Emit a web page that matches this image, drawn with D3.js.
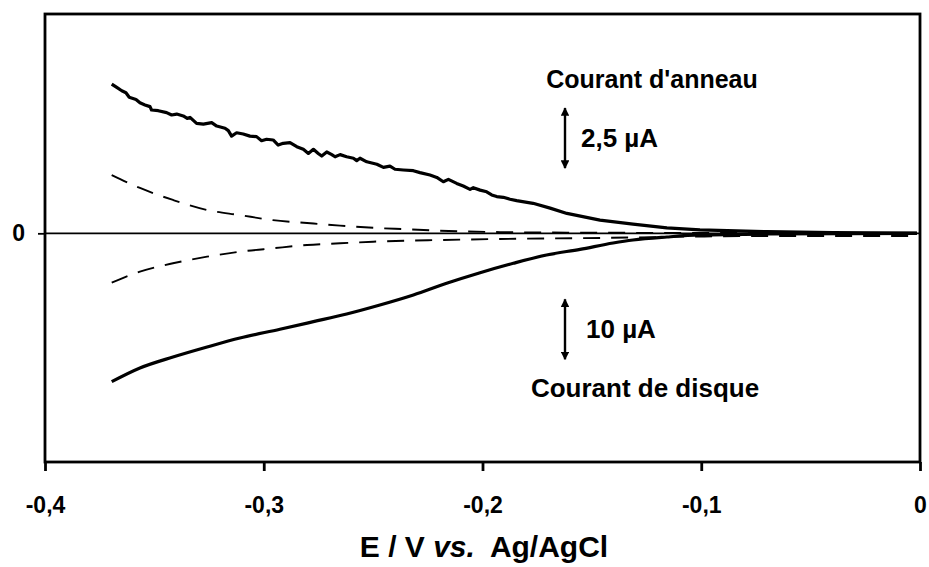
<!DOCTYPE html>
<html><head><meta charset="utf-8">
<script src="https://cdn.jsdelivr.net/npm/d3@7"></script>
<style>
html,body{margin:0;padding:0;background:#fff;}
text{font-family:"Liberation Sans",Arial,sans-serif;font-weight:bold;fill:#000;}
</style></head>
<body><svg id="chart" width="929" height="567"></svg>
<script>
// Potential (V vs Ag/AgCl) and currents (µA)
const ringE = [-0.3695,-0.3672,-0.3649,-0.3630,-0.3615,-0.3584,-0.3566,-0.3543,-0.3520,-0.3513,-0.3482,-0.3444,-0.3421,-0.3398,-0.3368,-0.3350,-0.3337,-0.3307,-0.3276,-0.3238,-0.3215,-0.3177,-0.3162,-0.3147,-0.3124,-0.3094,-0.3063,-0.3033,-0.3010,-0.2987,-0.2957,-0.2934,-0.2911,-0.2880,-0.2849,-0.2819,-0.2796,-0.2773,-0.2751,-0.2735,-0.2712,-0.2689,-0.2674,-0.2651,-0.2621,-0.2590,-0.2575,-0.2560,-0.2529,-0.2483,-0.2453,-0.2423,-0.2400,-0.2362,-0.2316,-0.2286,-0.2240,-0.2209,-0.2179,-0.2156,-0.2118,-0.2088,-0.2057,-0.2042,-0.2011,-0.1981,-0.1958,-0.1935,-0.1905,-0.1874,-0.1844,-0.1769,-0.1691,-0.1614,-0.1463,-0.1312,-0.1157,-0.1006,-0.0699,-0.0398,-0.0014];
const ringI = [6.22,6.08,5.94,5.86,5.67,5.58,5.44,5.35,5.28,5.14,5.11,5.03,4.93,4.97,4.89,4.79,4.83,4.58,4.55,4.61,4.47,4.38,4.28,4.05,4.19,4.14,4.05,4.03,3.86,3.92,3.89,3.68,3.75,3.78,3.61,3.50,3.33,3.50,3.33,3.22,3.39,3.28,3.19,3.28,3.19,3.13,3.03,3.13,2.98,2.88,2.75,2.80,2.67,2.64,2.61,2.53,2.43,2.33,2.15,2.25,2.08,1.97,1.83,1.90,1.80,1.73,1.60,1.53,1.50,1.42,1.36,1.25,1.05,0.83,0.55,0.38,0.23,0.14,0.07,0.03,0.01];

const ringBlankE = [-0.3695,-0.3566,-0.3415,-0.3259,-0.3109,-0.2958,-0.2802,-0.2651,-0.2500,-0.2345,-0.2194,-0.1920,-0.1463,-0.1006,-0.0550,-0.0014];
const ringBlankI = [2.43,1.89,1.39,0.97,0.76,0.55,0.43,0.32,0.23,0.17,0.11,0.05,0.025,0.015,0.01,0.01];

const diskE = [-0.3695,-0.3566,-0.3415,-0.3259,-0.3109,-0.2926,-0.2773,-0.2621,-0.2469,-0.2316,-0.2164,-0.2011,-0.1859,-0.1707,-0.1554,-0.1403,-0.1312,-0.1157,-0.1006,-0.0699,-0.0014];
const diskI = [-24.73,-22.45,-20.62,-18.95,-17.45,-16.0,-14.73,-13.45,-11.95,-10.28,-8.33,-6.57,-5.0,-3.62,-2.67,-1.62,-1.12,-0.62,-0.28,-0.12,-0.03];

const diskBlankE = [-0.3695,-0.3566,-0.3415,-0.3259,-0.3109,-0.2958,-0.2802,-0.2651,-0.2500,-0.2345,-0.2194,-0.1920,-0.1463,-0.1006,-0.0550,-0.0014];
const diskBlankI = [-8.23,-6.4,-5.0,-3.9,-3.07,-2.5,-1.95,-1.67,-1.4,-1.23,-1.12,-0.95,-0.78,-0.53,-0.45,-0.45];

const xTicks = [-0.4,-0.3,-0.2,-0.1,0];
const xTitle = ["E / V ", "vs.", "Ag/AgCl"];
const ringLabel = "Courant d'anneau";
const diskLabel = "Courant de disque";
const ringBar = [2.72, 5.22];   // 2,5 µA scale bar (ring)
const diskBar = [-11, -21];     // 10 µA scale bar (disk)
const ringBarLabel = "2,5 µA";
const diskBarLabel = "10 µA";

const svg = d3.select("#chart");
const L = 45, R = 920, T = 14, B = 462;
const x = d3.scaleLinear().domain([-0.4, 0]).range([L, R]);
const yRing = d3.scaleLinear().domain([-9.53, 9.14]).range([B, T]);
const yDisk = d3.scaleLinear().domain([-38.12, 36.55]).range([B, T]);
const FONT = '"Liberation Sans",Arial,sans-serif';

// zero line
svg.append("line").attr("x1", L).attr("x2", R).attr("y1", yRing(0)).attr("y2", yRing(0))
  .attr("stroke", "#000").attr("stroke-width", 1.8);

const zip = (a, b) => a.map((v, i) => [v, b[i]]);
const lineR = d3.line().curve(d3.curveMonotoneX).x(d => x(d[0])).y(d => yRing(d[1]));
const lineD = d3.line().curve(d3.curveMonotoneX).x(d => x(d[0])).y(d => yDisk(d[1]));
const lineRaw = d3.line().x(d => x(d[0])).y(d => yRing(d[1]));

svg.append("path").attr("d", lineR(zip(ringBlankE, ringBlankI)))
  .attr("fill", "none").attr("stroke", "#000").attr("stroke-width", 1.9).attr("stroke-dasharray", "17,11");
svg.append("path").attr("d", lineD(zip(diskBlankE, diskBlankI)))
  .attr("fill", "none").attr("stroke", "#000").attr("stroke-width", 1.9).attr("stroke-dasharray", "17,11");
svg.append("path").attr("d", lineRaw(zip(ringE, ringI)))
  .attr("fill", "none").attr("stroke", "#000").attr("stroke-width", 3.2).attr("stroke-linejoin", "round");
svg.append("path").attr("d", lineD(zip(diskE, diskI)))
  .attr("fill", "none").attr("stroke", "#000").attr("stroke-width", 3.2);

// frame
svg.append("rect").attr("x", L).attr("y", T).attr("width", R - L).attr("height", B - T)
  .attr("fill", "none").attr("stroke", "#000").attr("stroke-width", 2.8);

// x axis
const xa = svg.append("g").attr("transform", `translate(0,${B})`)
  .call(d3.axisBottom(x).tickValues(xTicks).tickSize(9).tickPadding(26)
    .tickFormat(d => d === 0 ? "0" : String(d).replace(".", ",")));
xa.select(".domain").remove();
xa.selectAll(".tick line").attr("stroke", "#000").attr("stroke-width", 2.8);
xa.selectAll(".tick text").style("font-size", "23px").style("font-family", FONT).style("font-weight", "bold");

// y axis (zero only)
const ya = svg.append("g").attr("transform", `translate(${L},0)`)
  .call(d3.axisLeft(yRing).tickValues([0]).tickSize(7).tickPadding(13).tickFormat(() => "0"));
ya.select(".domain").remove();
ya.selectAll(".tick line").attr("stroke", "#000").attr("stroke-width", 1.8);
ya.selectAll(".tick text").style("font-size", "23px").style("font-family", FONT).style("font-weight", "bold");

// x title
const tt = svg.append("text").attr("x", 484).attr("y", 557).attr("text-anchor", "middle").style("font-size", "30px");
tt.append("tspan").text(xTitle[0]);
tt.append("tspan").style("font-style", "italic").text(xTitle[1]);
tt.append("tspan").attr("dx", 15).text(xTitle[2]);

// scale bars
svg.append("defs").append("marker").attr("id", "ah").attr("viewBox", "0 0 10 10").attr("refX", 9).attr("refY", 5)
  .attr("markerWidth", 3.6).attr("markerHeight", 3.6).attr("orient", "auto-start-reverse")
  .append("path").attr("d", "M0,0 L10,5 L0,10 Z").attr("fill", "#000");

const ax = 565;
svg.append("line").attr("x1", ax).attr("x2", ax).attr("y1", yRing(ringBar[1])).attr("y2", yRing(ringBar[0]))
  .attr("stroke", "#000").attr("stroke-width", 2.4).attr("marker-start", "url(#ah)").attr("marker-end", "url(#ah)");
svg.append("line").attr("x1", ax).attr("x2", ax).attr("y1", yDisk(diskBar[0])).attr("y2", yDisk(diskBar[1]))
  .attr("stroke", "#000").attr("stroke-width", 2.4).attr("marker-start", "url(#ah)").attr("marker-end", "url(#ah)");

svg.append("text").attr("x", 652).attr("y", 88).attr("text-anchor", "middle").style("font-size", "25px").text(ringLabel);
svg.append("text").attr("x", 581).attr("y", 147).style("font-size", "26px").text(ringBarLabel);
svg.append("text").attr("x", 586).attr("y", 338).style("font-size", "26px").text(diskBarLabel);
svg.append("text").attr("x", 645).attr("y", 397).attr("text-anchor", "middle").style("font-size", "26px").text(diskLabel);
</script></body></html>
